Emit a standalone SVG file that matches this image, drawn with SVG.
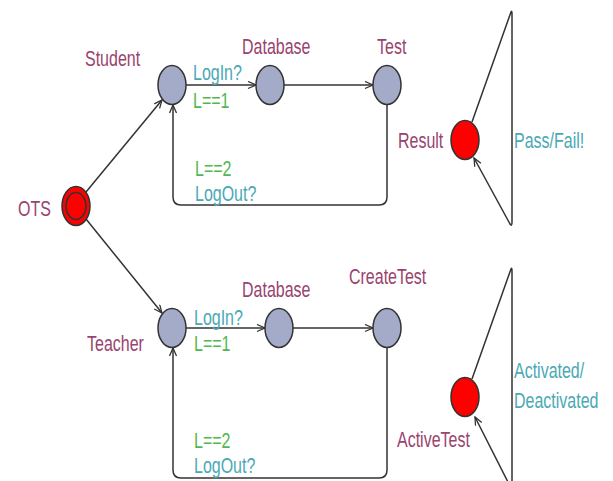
<svg xmlns="http://www.w3.org/2000/svg" width="613" height="481" viewBox="0 0 613 481">
<defs>
<style>
.loc{fill:#a3abc9;stroke:#333;stroke-width:1.5}
.red{fill:#ff0000;stroke:#333;stroke-width:1.5}
.t{font-family:"Liberation Sans",Arial,sans-serif;font-size:16px}
.name{fill:#99436f}
.sync{fill:#4aa9b5}
.guard{fill:#4fb84f}
.edge{fill:none;stroke:#333;stroke-width:1.5;stroke-linejoin:round}
</style>
<marker id="arr" markerWidth="10" markerHeight="10" refX="9" refY="4" orient="auto" markerUnits="userSpaceOnUse">
<path d="M1,0.5 L9,4 L1,7.5" fill="none" stroke="#333" stroke-width="1.3"/>
</marker>
</defs>
<rect width="613" height="481" fill="#fff"/>
<g id="connectors">
<path class="edge" d="M86,192 L162,100" marker-end="url(#arr)"/>
<path class="edge" d="M86,219 L162,313" marker-end="url(#arr)"/>
<path class="edge" d="M186,85 H256" marker-end="url(#arr)"/>
<path class="edge" d="M284,85 H373" marker-end="url(#arr)"/>
<path class="edge" d="M387,104 V197 Q387,205 379,205 H181 Q173,205 173,197 V105" marker-end="url(#arr)"/>
<path class="edge" d="M472,122 L511,12 Q512,10 512,14 V222 Q512,227 510,224 L474,158" marker-end="url(#arr)"/>
<path class="edge" d="M186,328 H265" marker-end="url(#arr)"/>
<path class="edge" d="M293,328 H373" marker-end="url(#arr)"/>
<path class="edge" d="M387,347 V470 Q387,478 379,478 H181 Q173,478 173,470 V348" marker-end="url(#arr)"/>
<path class="edge" d="M472,379 L511,269 Q512,267 512,271 V490 L475,417" marker-end="url(#arr)"/>
</g>
<g id="OTS">
<ellipse class="red" cx="76" cy="206" rx="14" ry="19.5"/>
<ellipse cx="76" cy="206" rx="10" ry="13.5" fill="none" stroke="#333" stroke-width="1.5"/>
<text class="t name" transform="translate(18,216) scale(1,1.38)">OTS</text>
</g>
<g id="Student">
<ellipse class="loc" cx="172" cy="85" rx="14" ry="19.5"/>
<text class="t name" transform="translate(85,66) scale(1,1.38)">Student</text>
</g>
<g id="Database1">
<ellipse class="loc" cx="270" cy="85" rx="14" ry="19.5"/>
<text class="t name" transform="translate(242,54) scale(1,1.38)">Database</text>
</g>
<g id="Test">
<ellipse class="loc" cx="387" cy="85" rx="14" ry="19.5"/>
<text class="t name" transform="translate(377,54) scale(1,1.38)">Test</text>
</g>
<g id="Result">
<ellipse class="red" cx="465" cy="140" rx="14" ry="19.5"/>
<text class="t name" transform="translate(398,148) scale(1,1.38)">Result</text>
</g>
<g id="Teacher">
<ellipse class="loc" cx="172" cy="328" rx="14" ry="19.5"/>
<text class="t name" transform="translate(87,351) scale(1,1.38)">Teacher</text>
</g>
<g id="Database2">
<ellipse class="loc" cx="279" cy="328" rx="14" ry="19.5"/>
<text class="t name" transform="translate(242,297) scale(1,1.38)">Database</text>
</g>
<g id="CreateTest">
<ellipse class="loc" cx="387" cy="328" rx="14" ry="19.5"/>
<text class="t name" transform="translate(349,284) scale(1,1.38)">CreateTest</text>
</g>
<g id="ActiveTest">
<ellipse class="red" cx="465" cy="397" rx="14" ry="19.5"/>
<text class="t name" transform="translate(397,447) scale(1,1.38)">ActiveTest</text>
</g>
<g id="labels">
<text class="t sync" transform="translate(193,80) scale(1,1.38)">LogIn?</text>
<text class="t guard" transform="translate(193,108) scale(1,1.38)">L==1</text>
<text class="t guard" transform="translate(195,176) scale(1,1.38)">L==2</text>
<text class="t sync" transform="translate(195,201) scale(1,1.38)">LogOut?</text>
<text class="t sync" transform="translate(514,148) scale(1,1.38)">Pass/Fail!</text>
<text class="t sync" transform="translate(194,325) scale(1,1.38)">LogIn?</text>
<text class="t guard" transform="translate(194,351) scale(1,1.38)">L==1</text>
<text class="t guard" transform="translate(194,448) scale(1,1.38)">L==2</text>
<text class="t sync" transform="translate(194,473) scale(1,1.38)">LogOut?</text>
<text class="t sync" transform="translate(514,378) scale(1,1.38)">Activated/</text>
<text class="t sync" transform="translate(514,408) scale(1,1.38)">Deactivated</text>
</g>
</svg>
